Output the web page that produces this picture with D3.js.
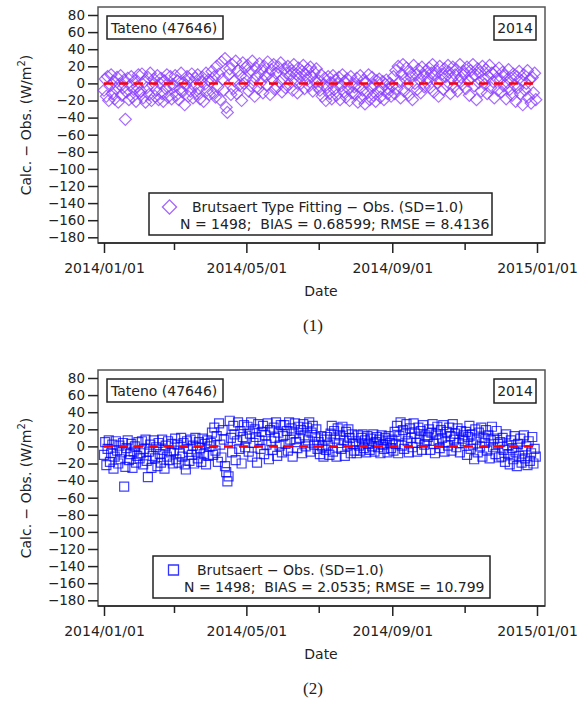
<!DOCTYPE html>
<html>
<head>
<meta charset="utf-8">
<script src="https://cdn.jsdelivr.net/npm/d3@7"></script>
<style>
  body { margin: 0; background: #fff; }
  text { font-family: "DejaVu Sans", "Liberation Sans", sans-serif; fill: #222; }
</style>
</head>
<body>
<div id="chart"></div>
<script>
// daily Calc. - Obs. values (W/m2), one row per month of 2014
var fittingDiff = [
  [-8, 5, -15, 8, -20, -3, 10, -12, 2, -18, -6, 7, -22, -1, 9, -14, -5, 4, -42, -10, 6, -19, -2, 8, -16, -7, 3, -21, -4, 10, -11],
  [-9, 11, -17, 2, -22, -5, 7, -13, 12, -20, -2, 5, -15, -8, 9, -19, 0, 6, -12, -21, 3, -6, 10, -16, -3, 8, -18, -1],
  [-4, 9, -14, 3, -19, -7, 12, -10, 1, -25, -2, 8, -15, 5, -9, 11, -17, -3, 6, -12, 10, -6, -18, 2, 7, -21, -1, 12, -8, 4, -13],
  [2, 14, -11, 8, -16, 20, -4, 11, -19, 25, 5, -8, 29, -28, -34, 10, 17, -13, 22, -6, 3, 26, -12, 15, -2, 9, -20, 24, 0, 18],
  [7, 21, -9, 13, -3, 26, 4, -15, 18, 9, -6, 23, 1, 15, -11, 20, 8, -2, 25, 11, -13, 16, 5, 22, -7, 12, -4, 19, 2, 24, -10],
  [6, 17, -5, 12, 20, -1, 9, 15, -8, 22, 3, 11, -11, 18, 7, 0, 14, 21, -6, 10, 4, 16, -3, 19, 8, -9, 13, 2, 17, -4],
  [3, -8, 10, -15, -2, 6, -20, -5, 8, -12, 1, -18, 9, -7, 4, -14, -1, 7, -19, -3, 10, -10, 2, -16, 5, -6, -20, 8, -11, 0, -4],
  [-13, 6, -22, -3, 9, -17, -8, 4, -24, 1, -11, 10, -19, -5, 7, -14, -2, -21, 3, -9, 5, -16, -6, 2, -19, -1, 4, -12, -7, 0, -15],
  [-3, 8, -12, 15, -6, 20, 2, -17, 11, 22, -9, 5, 18, -1, -14, 13, 7, -19, 21, 0, 10, -7, 16, 4, -11, 19, 9, -4, 14, 1],
  [6, 18, -5, 12, 22, -10, 9, 15, 1, -15, 20, 4, 11, -7, 17, 8, -2, 21, 13, -12, 5, 19, -4, 10, 16, -9, 3, 22, 7, -1, 14],
  [11, -6, 19, 3, -14, 15, 7, 22, -3, 10, -19, 17, 1, 13, -9, 20, 5, -1, 16, -12, 8, 21, -5, 12, 2, -17, 14, 6, -8, 18],
  [4, -10, 13, -3, 9, -18, 1, 16, -7, 6, -14, 11, -2, -21, 8, -5, 14, -12, 3, -25, 10, -8, 0, 15, -16, 5, -23, 7, -11, 12, -19]
];

var brutsaertDiff = [
  [-10, 5, -22, -3, 7, -18, -8, 2, -26, -12, 6, -5, -20, 1, -15, -7, 4, -47, -24, -2, 7, -16, -9, 3, -25, -6, 0, -19, -11, 5, -14],
  [-8, 6, -21, -3, 8, -17, -36, -6, 2, -25, -11, 7, -14, -1, -23, 4, -9, -19, 8, -4, -26, 1, -12, 6, -16, -7, 3, -20],
  [-5, 9, -15, 2, -19, -8, 10, -12, 4, -21, -27, 6, -3, -17, 8, -10, 1, -20, 10, -6, -14, 5, -2, -18, 9, -9, 3, -21, 7, -11, 0],
  [4, 16, -10, 22, -5, 12, -18, 27, 2, -13, 19, 8, -23, -30, -41, -35, 30, 10, -7, 24, 14, -16, 6, 28, -3, 18, -20, 11, 25, -1],
  [9, 23, -6, 15, 28, -12, 4, 20, 11, -19, 26, 7, -3, 17, 24, -9, 13, 2, 27, -15, 19, 6, -4, 22, 10, 28, -11, 16, 1, 25, -7],
  [12, 25, 3, 18, -5, 28, 8, 21, -12, 15, 27, 5, -2, 23, 10, 19, -8, 26, 13, 0, 22, 7, 28, -6, 16, 24, 2, 11, 20, -3],
  [5, -9, 12, 0, -12, 8, -4, 11, 2, -10, 15, 24, -6, 18, 9, -12, 21, 4, 13, -3, 23, 7, -11, 17, 1, 20, 10, -8, 14, 3, -5],
  [6, -8, 13, 1, -5, 10, 14, -2, 7, -7, 12, 3, -4, 9, 0, 14, -6, 5, 11, -1, 8, -8, 13, 2, -3, 10, 6, -7, 12, 4, -2],
  [8, -5, 17, 3, 24, -8, 12, 28, 1, 19, -3, 14, 26, 6, -7, 21, 10, -1, 27, 15, 4, -6, 22, 9, 18, -4, 25, 2, 13, 7],
  [11, 20, -4, 16, 26, 3, -8, 14, 23, 7, -2, 19, 10, 25, -6, 5, 17, 1, 22, 12, -5, 26, 8, 15, -1, 21, 4, -7, 18, 9, 13],
  [6, 17, -10, 11, 24, -3, 14, 2, -15, 20, 8, -7, 16, 0, 22, -12, 10, 4, 19, -5, 13, -14, 7, 23, -1, 9, -9, 18, 3, -13],
  [5, -12, 10, -4, -18, 14, 1, -9, -21, 7, -2, -15, 12, -7, -23, 3, -11, 9, -19, -5, 13, -14, 0, -22, 6, -17, -8, 11, -20, -3, -12]
];

var yTicks = [80, 60, 40, 20, 0, -20, -40, -60, -80, -100, -120, -140, -160, -180];
var majorDates = ["2014/01/01", "2014/05/01", "2014/09/01", "2015/01/01"];
var minorDates = ["2014/03/01", "2014/07/01", "2014/11/01"];

var fittingLegend = ["Brutsaert Type Fitting \u2212 Obs. (SD=1.0)", "N = 1498;  BIAS = 0.68599; RMSE = 8.4136"];
var brutsaertLegend = ["Brutsaert \u2212 Obs. (SD=1.0)", "N = 1498;  BIAS = 2.0535; RMSE = 10.799"];

var parseDate = d3.timeParse("%Y/%m/%d");

// flatten month rows into dated points
function toPoints(rows) {
  var pts = [];
  rows.forEach(function(row, m) {
    row.forEach(function(v, i) {
      pts.push({date: new Date(2014, m, i + 1), value: v});
    });
  });
  return pts;
}

var svg = d3.select("#chart").append("svg")
    .attr("width", 587)
    .attr("height", 707);

function drawPanel(top, rows, opts) {
  var g = svg.append("g").attr("transform", "translate(0," + top + ")");

  var x = d3.scaleTime()
      .domain([parseDate("2014/01/01"), parseDate("2015/01/01")])
      .range([104, 537]);
  var y = d3.scaleLinear().domain([-180, 80]).range([237.3, 15]);

  // frame
  g.append("rect")
      .attr("x", 98).attr("y", 7)
      .attr("width", 447).attr("height", 236)
      .attr("fill", "none")
      .attr("stroke", "#555")
      .attr("stroke-width", 1.5);

  // y axis
  var ya = g.append("g")
      .attr("transform", "translate(98,0)")
      .call(d3.axisLeft(y).tickValues(yTicks).tickSize(10).tickPadding(3));
  ya.select(".domain").remove();
  ya.selectAll("line").attr("stroke", "#222").attr("stroke-width", 1.5);
  ya.selectAll("text").style("font-size", "13.5px").attr("fill", "#222");

  // x axis, major ticks with labels
  var xa = g.append("g")
      .attr("transform", "translate(0,243)")
      .call(d3.axisBottom(x)
        .tickValues(majorDates.map(parseDate))
        .tickSize(10).tickPadding(10)
        .tickFormat(d3.timeFormat("%Y/%m/%d")));
  xa.select(".domain").attr("stroke", "#222").attr("stroke-width", 1.5)
      .attr("d", "M98,0H545");
  xa.selectAll("line").attr("stroke", "#222").attr("stroke-width", 1.5);
  xa.selectAll("text").style("font-size", "14px").attr("fill", "#222");

  // minor ticks
  var xm = g.append("g")
      .attr("transform", "translate(0,243)")
      .call(d3.axisBottom(x).tickValues(minorDates.map(parseDate)).tickSize(7).tickFormat(""));
  xm.select(".domain").remove();
  xm.selectAll("line").attr("stroke", "#222").attr("stroke-width", 1.5);

  // points
  var sym = d3.symbol().type(d3.symbolSquare).size(opts.size);
  g.append("g").selectAll("path")
      .data(toPoints(rows))
    .enter().append("path")
      .attr("d", sym)
      .attr("transform", function(d) {
        return "translate(" + x(d.date) + "," + y(d.value) + ")" + (opts.rotate ? " rotate(45)" : "");
      })
      .attr("fill", "none")
      .attr("stroke", opts.colour)
      .attr("stroke-opacity", 0.75)
      .attr("stroke-width", 1.2);

  // zero line
  g.append("line")
      .attr("x1", x(parseDate("2014/01/01"))).attr("x2", x(parseDate("2015/01/01")))
      .attr("y1", y(0)).attr("y2", y(0))
      .attr("stroke", "#ff0000")
      .attr("stroke-width", 2.5)
      .attr("stroke-dasharray", "9,6");

  // station and year boxes
  g.append("rect").attr("x", 107).attr("y", 16).attr("width", 116).attr("height", 23)
      .attr("fill", "#fff").attr("stroke", "#222").attr("stroke-width", 1.5);
  g.append("text").attr("x", 111).attr("y", 32.5).style("font-size", "14px").text("Tateno (47646)");
  g.append("rect").attr("x", 494).attr("y", 16).attr("width", 42).attr("height", 24)
      .attr("fill", "#fff").attr("stroke", "#222").attr("stroke-width", 1.5);
  g.append("text").attr("x", 515).attr("y", 33).attr("text-anchor", "middle")
      .style("font-size", "14px").text("2014");

  // legend
  var lb = opts.legendBox;
  g.append("rect").attr("x", lb[0]).attr("y", 193).attr("width", lb[1] - lb[0]).attr("height", 42)
      .attr("fill", "#fff").attr("stroke", "#222").attr("stroke-width", 1.5);
  g.append("path")
      .attr("d", d3.symbol().type(d3.symbolSquare).size(opts.legendSize))
      .attr("transform", "translate(" + opts.legendSym + ",207)" + (opts.rotate ? " rotate(45)" : ""))
      .attr("fill", "none")
      .attr("stroke", opts.colour)
      .attr("stroke-opacity", 0.8)
      .attr("stroke-width", 1.3);
  g.append("text").attr("x", opts.line1x).attr("y", 212).style("font-size", "14px").text(opts.legend[0]);
  g.append("text").attr("x", opts.line2x).attr("y", 229).style("font-size", "14px")
      .attr("xml:space", "preserve").text(opts.legend[1]);

  // axis titles
  g.append("text")
      .attr("transform", "translate(31,125)rotate(-90)")
      .attr("text-anchor", "middle")
      .style("font-size", "14px")
      .html("Calc. \u2212 Obs. (W/m<tspan dy='-6' font-size='10px'>2</tspan><tspan dy='6'>)</tspan>");
  g.append("text").attr("x", 321).attr("y", 296).attr("text-anchor", "middle")
      .style("font-size", "14px").text("Date");

  // caption
  g.append("text").attr("x", 313).attr("y", 331).attr("text-anchor", "middle")
      .style("font-family", "'Liberation Serif', 'Times New Roman', serif")
      .style("font-size", "17px").text(opts.caption);
}

drawPanel(0, fittingDiff, {
  colour: "#8a3cff", size: 72, rotate: true, legendSize: 100,
  legend: fittingLegend, legendBox: [149, 492], legendSym: 169.5,
  line1x: 192, line2x: 180, caption: "(1)"
});

drawPanel(363, brutsaertDiff, {
  colour: "#0000ff", size: 81, rotate: false, legendSize: 100,
  legend: brutsaertLegend, legendBox: [153, 490], legendSym: 173.5,
  line1x: 197, line2x: 184, caption: "(2)"
});
</script>
</body>
</html>
